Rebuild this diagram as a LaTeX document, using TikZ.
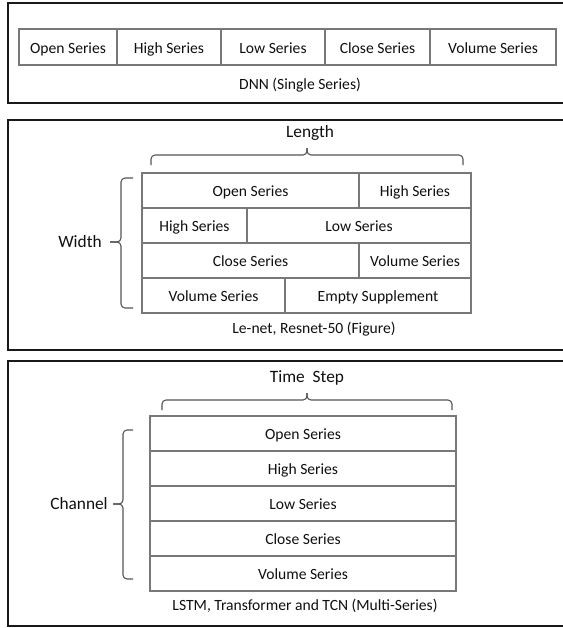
\documentclass[tikz,border=0pt]{standalone}
\usepackage{fontspec}
\setmainfont{Carlito}
\usepackage{tikz}
\usetikzlibrary{positioning}
\usepackage{xcolor}
\definecolor{gridgray}{RGB}{120,120,120}
\definecolor{bracegray}{RGB}{85,85,85}
\definecolor{textcol}{RGB}{15,15,15}

\begin{document}
\begin{tikzpicture}[x=0.75pt,y=-0.75pt,node distance=0pt]
    \tikzstyle{cell}=[shape=rectangle,draw=gridgray,line width=0.9pt,outer sep=0pt,inner sep=0pt,text height=9pt,text depth=0pt,text=textcol,font=\fontsize{11.7}{14}\selectfont]
    \tikzstyle{rowA}=[cell,minimum height=27pt]
    \tikzstyle{rowB}=[cell,minimum height=26.25pt]
    \tikzstyle{rowC}=[cell,minimum height=26.25pt,minimum width=229.5pt]
    \tikzstyle{frame}=[draw=black!90,line width=1.5pt]
    \tikzstyle{brc}=[draw=bracegray,line width=0.8pt,rounded corners=3pt]
    \tikzstyle{lbl}=[text=textcol,font=\fontsize{13}{15}\selectfont]
    \tikzstyle{capt}=[text=textcol,font=\fontsize{11.7}{14}\selectfont]

    \useasboundingbox (0,0) rectangle (563,628);
    \clip (0,0) rectangle (563,628);

    \draw[frame] (8,3) rectangle (580,103);
    \draw[frame] (8,120) rectangle (580,350);
    \draw[frame] (8,361) rectangle (580,626);

    \node[rowA,minimum width=73.5pt,anchor=north west] (A1) at (19,29) {Open Series};
    \node[rowA,minimum width=78pt,right=of A1] (A2) {High Series};
    \node[rowA,minimum width=78pt,right=of A2] (A3) {Low Series};
    \node[rowA,minimum width=78.75pt,right=of A3] (A4) {Close Series};
    \node[rowA,minimum width=94.5pt,right=of A4] (A5) {Volume Series};
    \node[capt] (capA) at (300,85) {DNN (Single Series)};

    \node[rowB,minimum width=162.75pt,anchor=north west] (B1) at (142,173) {Open Series};
    \node[rowB,minimum width=84pt,right=of B1] (B2) {High Series};
    \node[rowB,minimum width=78.75pt,anchor=north west] (B3) at (B1.south west) {High Series};
    \node[rowB,minimum width=168pt,right=of B3] (B4) {Low Series};
    \node[rowB,minimum width=162.75pt,anchor=north west] (B5) at (B3.south west) {Close Series};
    \node[rowB,minimum width=84pt,right=of B5] (B6) {Volume Series};
    \node[rowB,minimum width=107.25pt,anchor=north west] (B7) at (B5.south west) {Volume Series};
    \node[rowB,minimum width=139.5pt,right=of B7] (B8) {Empty Supplement};
    \node[lbl] (len) at (310,133) {Length};
    \node[lbl] (wid) at (80,242) {Width};
    \node[capt] (capB) at (314,329) {Le-net, Resnet-50 (Figure)};

    \draw[brc] (151,165) -- (151,155) -- (307,155) -- (307,148);
    \draw[brc] (307,148) -- (307,155) -- (463,155) -- (463,165);
    \draw[brc] (133,178) -- (121,178) -- (121,242) -- (110,242);
    \draw[brc] (110,242) -- (121,242) -- (121,308) -- (133,308);

    \node[rowC,anchor=north west] (C1) at (150,416) {Open Series};
    \node[rowC,below=of C1] (C2) {High Series};
    \node[rowC,below=of C2] (C3) {Low Series};
    \node[rowC,below=of C3] (C4) {Close Series};
    \node[rowC,below=of C4] (C5) {Volume Series};
    \node[lbl] (ts) at (307,378) {Time\ \ Step};
    \node[lbl] (ch) at (79,504) {Channel};
    \node[capt] (capC) at (305,606) {LSTM, Transformer and TCN (Multi-Series)};

    \draw[brc] (162,410) -- (162,400) -- (307,400) -- (307,393);
    \draw[brc] (307,393) -- (307,400) -- (452,400) -- (452,410);
    \draw[brc] (133,430) -- (123,430) -- (123,504) -- (113,504);
    \draw[brc] (113,504) -- (123,504) -- (123,579) -- (133,579);

\end{tikzpicture}
\end{document}
